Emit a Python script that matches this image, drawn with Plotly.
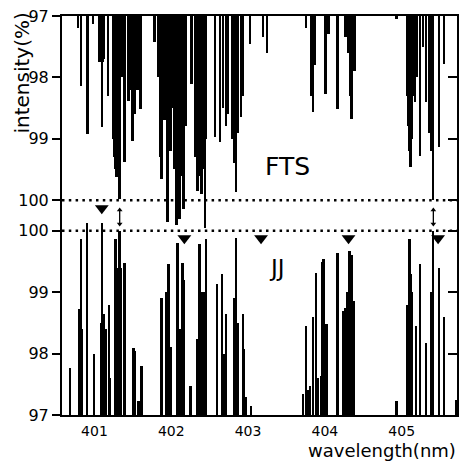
import plotly.graph_objects as go

# ---------------- data ----------------
# FTS spectrum: absorption lines hanging from the top (97 % at top, 100 % at the dotted line)
fts_wavelength = [
    400.785, 400.824, 400.908, 400.980, 401.057, 401.070, 401.083, 401.096, 401.109, 401.122,
    401.180, 401.239, 401.252, 401.277, 401.290, 401.303, 401.329, 401.368, 401.394, 401.446,
    401.472, 401.498, 401.524, 401.562, 401.601, 401.783, 401.834, 401.860, 401.873, 401.912,
    401.951, 401.990, 402.016, 402.042, 402.068, 402.094, 402.106, 402.132, 402.158, 402.184,
    402.262, 402.314, 402.340, 402.366, 402.391, 402.417, 402.437, 402.456, 402.573, 402.638,
    402.676, 402.715, 402.741, 402.793, 402.819, 402.845, 402.871, 402.910, 402.935, 403.026,
    403.195, 403.246, 403.751, 403.816, 403.842, 403.868, 404.011, 404.049, 404.166, 404.270,
    404.308, 404.334, 404.347, 404.386, 404.930, 405.073, 405.086, 405.099, 405.112, 405.125,
    405.137, 405.163, 405.176, 405.202, 405.241, 405.280, 405.319, 405.358, 405.384, 405.409,
    405.487, 405.552,
]
fts_intensity = [
    97.20, 98.14, 98.93, 97.13, 97.75, 97.75, 97.70, 98.81, 97.75, 97.70,
    98.30, 99.00, 99.30, 99.50, 99.62, 99.40, 99.98, 98.00, 99.38, 98.38,
    98.20, 99.04, 98.60, 98.20, 98.52, 97.42, 98.00, 99.30, 99.66, 98.70,
    100.36, 99.20, 98.50, 99.50, 100.40, 99.80, 100.30, 99.60, 100.15, 98.80,
    98.10, 99.30, 99.85, 99.60, 99.90, 99.50, 100.45, 99.00, 98.97, 99.06,
    98.50, 98.80, 98.60, 99.00, 99.40, 99.86, 98.90, 98.65, 98.30, 97.46,
    97.35, 97.60, 97.20, 98.30, 98.56, 97.80, 98.27, 97.30, 98.52, 97.35,
    97.60, 98.30, 98.68, 97.90, 97.05, 98.30, 98.80, 99.20, 99.46, 98.40,
    99.00, 98.30, 98.40, 98.00, 99.28, 97.50, 98.40, 98.90, 99.20, 100.00,
    99.14, 97.78,
]

# JJ spectrum: lines rising from the bottom (97 % at bottom, 100 % at the dotted line)
jj_wavelength = [
    400.682, 400.798, 400.824, 400.837, 400.902, 400.992, 401.083, 401.096, 401.122, 401.148,
    401.187, 401.200, 401.265, 401.277, 401.303, 401.329, 401.342, 401.394, 401.511, 401.524,
    401.575, 401.614, 401.873, 401.938, 401.964, 401.990, 402.081, 402.106, 402.145, 402.158,
    402.249, 402.340, 402.366, 402.391, 402.417, 402.456, 402.599, 402.663, 402.689, 402.715,
    402.819, 402.845, 402.871, 402.935, 402.948, 402.974, 403.039, 403.713, 403.751, 403.777,
    403.803, 403.842, 403.881, 403.907, 403.946, 403.972, 403.985, 404.023, 404.166, 404.244,
    404.270, 404.296, 404.321, 404.347, 404.373, 404.930, 405.073, 405.099, 405.112, 405.137,
    405.189, 405.241, 405.319, 405.384, 405.409, 405.487, 405.552, 405.707,
]
jj_intensity = [
    97.77, 98.73, 99.87, 98.40, 100.12, 98.00, 98.50, 100.13, 98.65, 98.40,
    98.80, 97.60, 98.70, 99.87, 99.40, 100.00, 99.40, 99.48, 98.09, 98.05,
    97.23, 97.80, 98.90, 99.00, 99.46, 98.10, 99.80, 98.40, 99.48, 99.20,
    97.47, 98.24, 99.79, 99.00, 99.00, 99.87, 99.13, 99.30, 98.00, 98.65,
    98.90, 99.89, 98.50, 98.65, 98.08, 97.30, 97.15, 97.34, 98.45, 97.40,
    97.47, 98.60, 99.32, 97.60, 97.64, 99.50, 99.54, 98.48, 99.64, 98.70,
    98.75, 99.00, 99.67, 99.60, 98.86, 97.23, 98.80, 99.87, 99.30, 99.00,
    98.45, 99.46, 98.17, 99.00, 100.00, 99.40, 98.60, 97.25,
]

# markers between / below the 100 % lines
triangle_wavelength = [401.096, 402.171, 403.169, 404.308, 405.474]
triangle_panel = ["FTS", "JJ", "JJ", "JJ", "JJ"]
arrow_wavelength = [401.329, 405.412]

x_tick_values = [401, 402, 403, 404, 405]
y_tick_labels = ["97", "98", "99", "100", "100", "99", "98", "97"]

# ---------------- stacked vertical scale ----------------
# bottom panel (JJ): 97 -> 0, 100 -> 3 ; gap of 0.5 ; top panel (FTS): 100 -> 3.5, 97 -> 6.5
JJ_BASE = 97.0
GAP = 0.5
TOP100 = 3.0 + GAP
TOP = TOP100 + 3.0
X_RANGE = [400.578, 405.72]

def u_jj(v):
    return v - JJ_BASE

def u_fts(w):
    return TOP100 + (100.0 - w)

y_tick_vals = [u_jj(97), u_jj(98), u_jj(99), u_jj(100), u_fts(100), u_fts(99), u_fts(98), u_fts(97)]

FONT = "DejaVu Sans"
BAR_W = 0.032

fig = go.Figure()

# FTS lines hanging from the top
fig.add_trace(go.Bar(
    x=fts_wavelength,
    base=[u_fts(w) for w in fts_intensity],
    y=[TOP - u_fts(w) for w in fts_intensity],
    width=BAR_W, marker=dict(color="black", line=dict(width=0)),
    showlegend=False, hoverinfo="skip",
))
# JJ lines rising from the bottom
fig.add_trace(go.Bar(
    x=jj_wavelength,
    base=[0] * len(jj_intensity),
    y=[u_jj(v) for v in jj_intensity],
    width=BAR_W, marker=dict(color="black", line=dict(width=0)),
    showlegend=False, hoverinfo="skip",
))

# dotted 100 % reference lines
for level in (u_fts(100), u_jj(100)):
    fig.add_trace(go.Scatter(
        x=X_RANGE, y=[level, level], mode="lines",
        line=dict(color="black", width=2.5, dash="2.5px,4.3px"),
        showlegend=False, hoverinfo="skip", cliponaxis=False,
    ))

# triangles
tri_y = [u_fts(100.13) if p == "FTS" else u_jj(99.88) for p in triangle_panel]
fig.add_trace(go.Scatter(
    x=triangle_wavelength, y=tri_y, mode="markers",
    marker=dict(symbol="triangle-down", size=12, color="black"),
    showlegend=False, hoverinfo="skip",
))

# small double arrows between the two 100 % lines
for aw in arrow_wavelength:
    fig.add_trace(go.Scatter(
        x=[aw, aw], y=[u_fts(100.16), u_jj(100.11)], mode="lines+markers",
        line=dict(color="black", width=1.3),
        marker=dict(symbol=["triangle-up", "triangle-down"], size=5, color="black"),
        showlegend=False, hoverinfo="skip",
    ))

# dummy trace for the right-hand tick axis
fig.add_trace(go.Scatter(x=[X_RANGE[0]], y=[0], yaxis="y2", mode="markers",
                         marker=dict(opacity=0), showlegend=False, hoverinfo="skip"))

fig.update_layout(
    width=461, height=462,
    margin=dict(l=62, r=2, t=16, b=47),
    paper_bgcolor="white", plot_bgcolor="white",
    barmode="overlay", bargap=0,
    font=dict(family=FONT, color="black"),
    xaxis=dict(
        range=X_RANGE, tickvals=x_tick_values, ticktext=[str(v) for v in x_tick_values],
        ticks="", showgrid=False, zeroline=False,
        showline=True, mirror=True, linecolor="black", linewidth=2,
        tickfont=dict(size=14, family=FONT), ticklabelstandoff=2,
    ),
    yaxis=dict(
        range=[0, TOP], tickvals=y_tick_vals, ticktext=y_tick_labels,
        ticks="outside", ticklen=8, tickwidth=2, tickcolor="black",
        showgrid=False, zeroline=False,
        showline=True, mirror=True, linecolor="black", linewidth=2,
        tickfont=dict(size=16, family=FONT),
    ),
    yaxis2=dict(
        range=[0, TOP], tickvals=y_tick_vals, overlaying="y", side="right", anchor="x",
        ticks="inside", ticklen=9, tickwidth=2, tickcolor="black",
        showticklabels=False, showgrid=False, zeroline=False, showline=False,
    ),
    annotations=[
        dict(text="FTS", x=403.518, y=u_fts(99.45), xref="x", yref="y",
             showarrow=False, font=dict(size=25, family=FONT)),
        dict(text="JJ", x=403.376, y=u_jj(99.40), xref="x", yref="y",
             showarrow=False, font=dict(size=23, family=FONT)),
        dict(text="wavelength(nm)", x=1, y=-0.1178, xref="paper", yref="paper",
             xanchor="right", yanchor="bottom", showarrow=False, borderpad=0,
             font=dict(size=18, family=FONT)),
        dict(text="intensity(%)", x=-0.1, y=0.857, xref="paper", yref="paper",
             xanchor="center", yanchor="middle", textangle=-90, showarrow=False,
             font=dict(size=20, family=FONT)),
    ],
)

fig.write_html("out.html")
